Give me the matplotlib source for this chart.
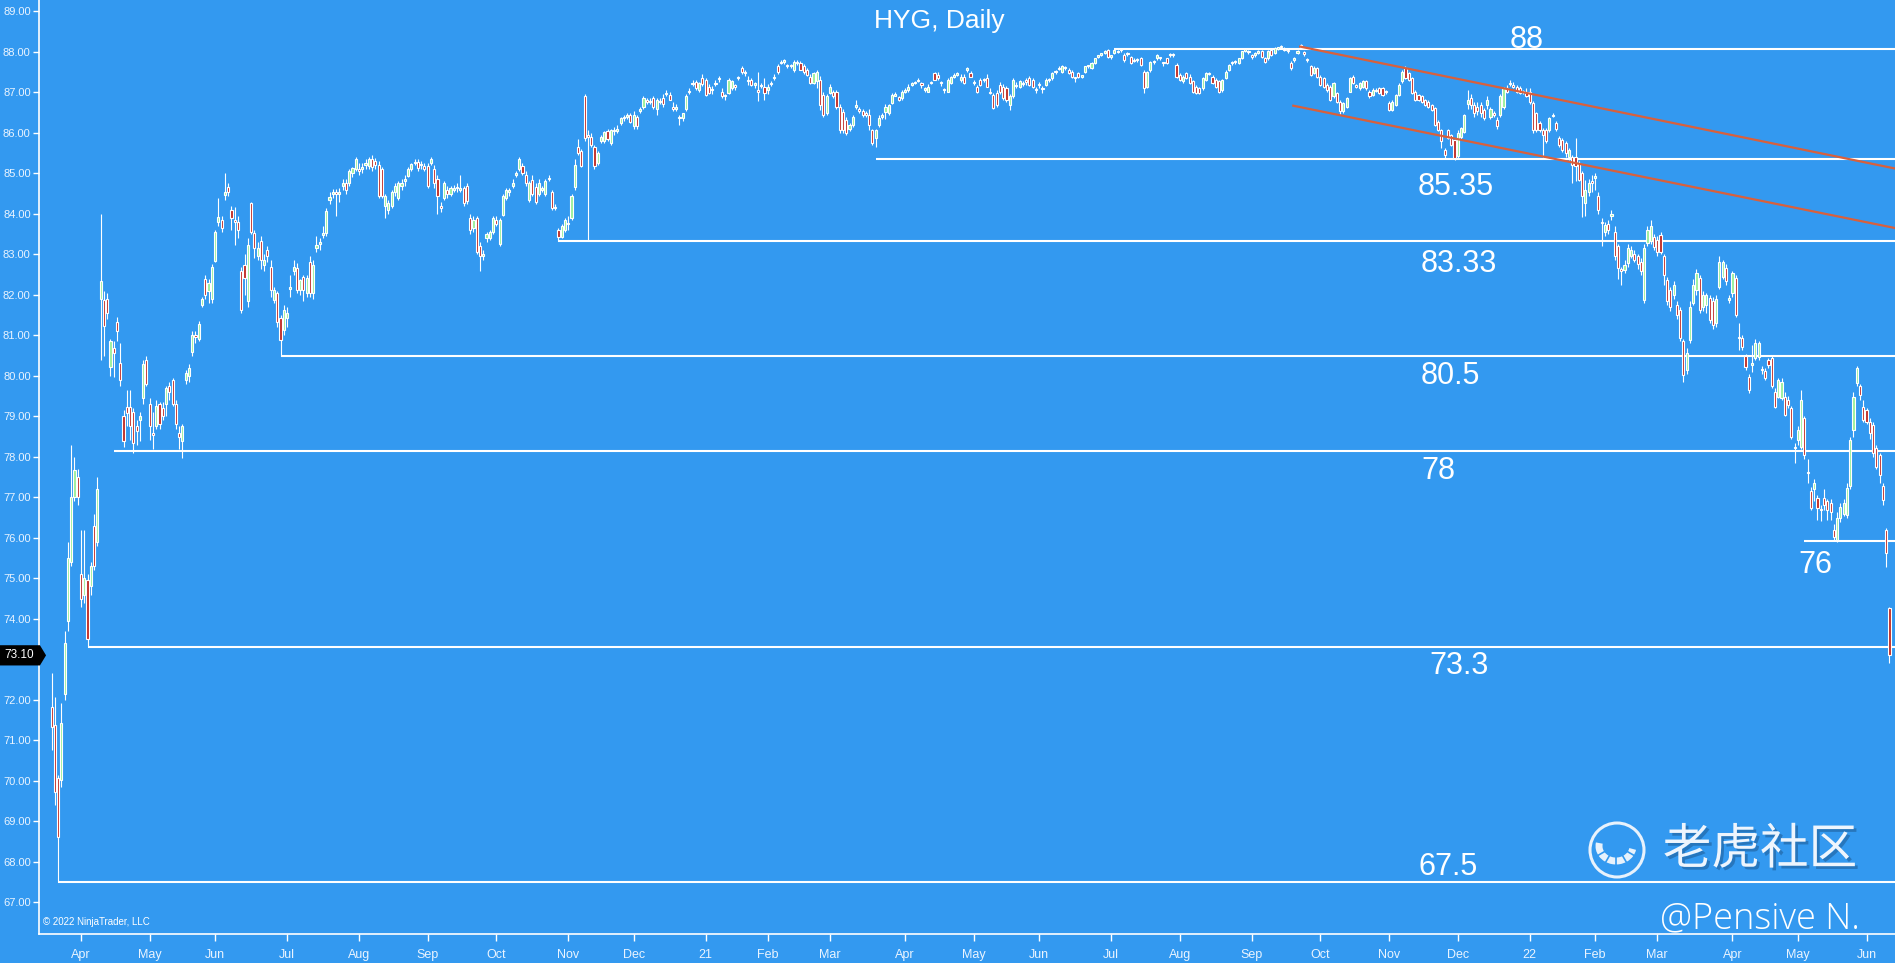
import matplotlib
matplotlib.use('Agg')
import matplotlib.pyplot as plt
import matplotlib.patheffects as pe
from matplotlib.patches import Circle, Arc, Polygon
import numpy as np
import pandas as pd

# NYSE holidays inside the charted range
holidays = ['2020-04-10', '2020-05-25', '2020-07-03', '2020-09-07', '2020-11-26', '2020-12-25',
            '2021-01-01', '2021-01-18', '2021-02-15', '2021-04-02', '2021-05-31', '2021-07-05',
            '2021-09-06', '2021-11-25', '2021-12-24', '2022-01-17', '2022-02-21', '2022-04-15',
            '2022-05-30']
dates = pd.bdate_range('2020-03-19', '2022-06-10', freq='C', holidays=holidays)

# daily OHLC, one line per month
o = [
    71.83, 71.38, 70.07, 70.02, 72.14, 73.95, 75.40, 77.00, 77.50,
    75.10, 74.60, 74.96, 74.80, 76.30, 75.90, 81.90, 81.88, 81.90, 80.23, 80.68, 81.34, 80.31, 79.00, 79.24, 79.24, 79.10, 78.75, 78.90, 79.45, 80.40,
    79.30, 78.60, 78.75, 79.30, 79.20, 79.30, 79.75, 79.90, 79.30, 78.60, 78.40, 79.90, 80.00, 80.60, 81.00, 80.90, 81.75, 82.40, 82.10, 81.90,
    82.83, 83.81, 83.85, 84.47, 84.67, 84.10, 83.85, 83.80, 82.58, 82.74, 81.84, 84.26, 83.52, 82.95, 83.32, 82.74, 83.11, 82.70, 81.88, 82.04, 81.42, 81.14,
    81.42, 82.15, 82.60, 82.66, 82.12, 82.45, 82.04, 82.82, 82.04, 83.15, 83.25, 83.48, 83.52, 84.35, 84.50, 84.55, 84.50, 84.70, 84.76, 84.76, 85.00, 85.10,
    85.10, 85.10, 85.20, 85.17, 85.35, 85.30, 85.20, 85.10, 84.20, 84.10, 84.20, 84.55, 84.40, 84.70, 84.80, 84.93, 85.10, 85.25, 85.29, 85.20, 85.17,
    85.17, 85.25, 85.10, 84.87, 84.20, 84.40, 84.60, 84.50, 84.60, 84.63, 84.60, 84.63, 84.68, 83.90, 83.65, 83.90, 83.20, 82.95, 83.40, 83.40, 83.55,
    83.85, 83.25, 83.97, 84.40, 84.55, 84.70, 84.95, 85.10, 85.17, 84.96, 84.35, 84.84, 84.67, 84.50, 84.60, 84.50, 84.85, 84.55, 84.15, 83.60, 83.44, 83.60,
    83.75, 83.90, 84.67, 85.66, 85.54, 86.90, 85.95, 85.90, 85.66, 85.25, 85.80, 85.80, 86.05, 85.75, 86.05, 86.05, 86.24, 86.36, 86.40, 86.44,
    86.16, 86.40, 86.55, 86.65, 86.80, 86.75, 86.86, 86.60, 86.75, 86.86, 86.95, 86.94, 86.65, 86.60, 86.36, 86.36, 86.60, 87.00, 87.20, 87.25, 87.06, 87.35,
    87.30, 87.14, 87.05, 87.20, 87.33, 87.02, 86.90, 86.98, 87.10, 87.15, 87.35, 87.60, 87.47, 87.27, 87.30, 87.19, 87.05, 87.15, 87.14,
    87.05, 87.20, 87.35, 87.64, 87.72, 87.76, 87.65, 87.64, 87.56, 87.72, 87.72, 87.64, 87.55, 87.39, 87.23, 87.27, 87.31, 86.94, 86.50,
    86.98, 87.00, 87.00, 86.65, 86.52, 86.32, 86.10, 86.20, 86.65, 86.58, 86.55, 86.48, 86.44, 86.07, 85.87, 86.20, 86.40, 86.52, 86.50, 86.73, 86.92, 86.88, 86.86,
    87.00, 87.06, 87.19, 87.23, 87.27, 87.22, 87.05, 87.02, 87.23, 87.47, 87.43, 87.23, 87.05, 87.02, 87.23, 87.39, 87.43, 87.30, 87.39, 87.56, 87.47,
    87.23, 87.14, 87.31, 87.30, 87.35, 87.02, 86.94, 86.98, 87.19, 87.14, 87.10, 86.69, 86.90, 87.15, 87.14, 87.20, 87.30, 87.35, 87.31, 87.05,
    87.17, 87.08, 87.19, 87.30, 87.35, 87.50, 87.58, 87.51, 87.60, 87.56, 87.51, 87.35, 87.47, 87.39, 87.51, 87.64, 87.60, 87.72, 87.88, 87.93, 87.98, 88.05,
    87.88, 87.97, 88.00, 88.04, 87.93, 87.95, 87.88, 87.78, 87.80, 87.84, 87.50, 87.14, 87.56, 87.75, 87.84, 87.85, 87.73, 87.84, 87.92, 87.92, 87.68,
    87.43, 87.27, 87.47, 87.39, 87.27, 87.14, 87.10, 87.10, 87.31, 87.45, 87.39, 87.31, 87.27, 87.06, 87.35, 87.56, 87.72, 87.74, 87.72, 87.84, 88.03, 88.00,
    87.90, 87.92, 87.98, 88.01, 87.84, 87.84, 88.05, 87.97, 88.08, 88.11, 88.08, 88.04, 87.72, 87.80, 87.98, 88.12, 88.00, 87.82, 87.64, 87.47, 87.60,
    87.39, 87.35, 87.19, 87.14, 86.90, 86.98, 86.77, 86.53, 86.65, 87.02, 87.39, 87.16, 87.10, 87.14, 87.27, 87.02, 86.94, 87.04, 87.10, 87.10, 87.00,
    86.73, 86.57, 86.69, 86.94, 87.27, 87.60, 87.47, 87.35, 87.02, 86.94, 86.90, 86.81, 86.77, 86.69, 86.61, 86.28, 86.07, 85.58, 86.07, 85.95, 85.83,
    85.42, 85.90, 86.03, 86.70, 86.85, 86.69, 86.65, 86.69, 86.57, 86.69, 86.40, 86.48, 86.32, 86.44, 86.65, 87.10, 87.20, 87.15, 87.14, 87.10, 87.00, 87.02,
    87.02, 86.73, 86.48, 86.24, 86.07, 86.07, 86.07, 86.42, 86.24, 85.87, 85.83, 85.75, 85.41, 85.40, 85.40, 85.25, 85.00, 84.26, 84.55, 84.80,
    84.88, 84.45, 83.80, 83.56, 83.75, 83.95, 83.56, 83.20, 82.62, 82.62, 82.78, 82.95, 83.00, 82.95, 82.82, 81.88, 83.28, 83.32, 83.44,
    83.36, 83.48, 82.95, 82.37, 82.12, 82.00, 81.75, 81.63, 80.85, 80.15, 80.89, 81.80, 82.12, 82.41, 81.70, 81.75, 81.92, 81.84, 81.30, 82.20, 82.45, 82.66, 81.88,
    82.04, 82.41, 80.95, 80.93, 80.48, 79.98, 80.28, 80.44, 80.47, 80.18, 80.11, 80.40, 80.44, 79.61, 79.49, 79.45, 79.49, 79.41, 79.20, 78.25,
    78.42, 78.25, 78.95, 77.62, 77.15, 77.20, 76.98, 76.70, 76.98, 76.90, 76.85, 76.20, 75.95, 76.49, 76.60, 76.57, 77.27, 78.67, 79.82, 79.74, 79.24,
    79.15, 78.87, 78.79, 78.21, 78.05, 77.27, 76.20, 74.27,
]
h = [
    72.67, 72.07, 70.15, 71.93, 73.70, 75.90, 78.30, 78.00, 77.70,
    76.20, 76.20, 75.10, 75.40, 76.60, 77.50, 84.00, 82.10, 82.05, 80.90, 80.85, 81.45, 80.80, 79.15, 79.65, 79.65, 79.20, 78.90, 79.10, 80.40, 80.50,
    79.45, 79.10, 79.40, 79.35, 79.35, 79.75, 79.85, 79.95, 79.40, 78.75, 78.80, 80.15, 80.30, 81.10, 81.10, 81.35, 81.95, 82.50, 82.40, 82.75,
    83.60, 84.40, 83.95, 85.00, 84.75, 84.20, 84.18, 83.95, 82.70, 83.00, 83.40, 84.30, 83.60, 83.30, 83.45, 83.00, 83.20, 82.85, 82.20, 82.10, 81.50, 81.75,
    81.70, 82.50, 82.85, 82.78, 82.40, 82.50, 82.50, 82.95, 82.85, 83.45, 83.40, 83.70, 84.15, 84.55, 84.62, 84.62, 84.65, 84.85, 84.85, 85.10, 85.15, 85.40,
    85.25, 85.25, 85.35, 85.40, 85.45, 85.38, 85.30, 85.15, 84.50, 84.35, 84.60, 84.75, 84.80, 84.85, 84.95, 85.15, 85.25, 85.35, 85.35, 85.30, 85.25,
    85.25, 85.40, 85.20, 84.95, 84.30, 84.80, 84.70, 84.70, 84.72, 84.75, 84.95, 84.70, 84.75, 84.00, 83.95, 83.95, 83.30, 83.10, 83.55, 83.60, 83.95,
    83.95, 83.90, 84.50, 84.65, 84.65, 84.85, 85.05, 85.40, 85.25, 85.05, 84.80, 84.95, 84.75, 84.85, 84.70, 84.85, 84.95, 84.60, 84.25, 83.65, 83.75, 83.90,
    83.95, 84.50, 85.35, 85.85, 85.60, 86.95, 86.07, 86.00, 85.70, 85.55, 85.95, 86.05, 86.10, 86.10, 86.15, 86.20, 86.40, 86.45, 86.50, 86.50,
    86.55, 86.45, 86.65, 86.90, 86.85, 86.85, 86.90, 86.85, 86.85, 86.95, 87.05, 87.00, 86.75, 86.70, 86.45, 86.50, 86.95, 87.10, 87.30, 87.30, 87.25, 87.45,
    87.35, 87.20, 87.15, 87.30, 87.40, 87.10, 86.95, 87.35, 87.30, 87.20, 87.40, 87.65, 87.55, 87.40, 87.35, 87.25, 87.50, 87.22, 87.35,
    87.20, 87.28, 87.45, 87.70, 87.80, 87.82, 87.70, 87.70, 87.80, 87.80, 87.78, 87.70, 87.60, 87.45, 87.50, 87.55, 87.40, 87.00, 86.95,
    87.20, 87.05, 87.05, 86.70, 86.60, 86.40, 86.25, 86.45, 86.80, 86.65, 86.60, 86.55, 86.60, 86.10, 86.10, 86.45, 86.50, 86.70, 86.70, 86.98, 87.00, 86.92, 87.05,
    87.10, 87.20, 87.25, 87.28, 87.35, 87.25, 87.14, 87.20, 87.28, 87.50, 87.50, 87.28, 87.10, 87.35, 87.40, 87.47, 87.50, 87.45, 87.45, 87.62, 87.52,
    87.30, 87.18, 87.35, 87.35, 87.45, 87.10, 86.98, 87.05, 87.25, 87.20, 87.15, 86.95, 87.35, 87.25, 87.30, 87.28, 87.35, 87.40, 87.35, 87.12,
    87.25, 87.15, 87.35, 87.35, 87.50, 87.55, 87.65, 87.68, 87.65, 87.60, 87.55, 87.38, 87.50, 87.42, 87.66, 87.68, 87.75, 87.86, 87.92, 87.96, 88.04, 88.08,
    87.92, 88.08, 88.04, 88.09, 87.97, 88.00, 87.90, 87.84, 87.84, 87.88, 87.55, 87.52, 87.78, 87.80, 87.95, 87.88, 87.76, 87.86, 87.96, 87.96, 87.72,
    87.48, 87.42, 87.50, 87.45, 87.30, 87.18, 87.14, 87.38, 87.50, 87.50, 87.42, 87.35, 87.30, 87.34, 87.54, 87.70, 87.78, 87.80, 87.86, 88.03, 88.08, 88.04,
    87.95, 88.00, 88.04, 88.05, 87.88, 88.04, 88.08, 88.12, 88.12, 88.16, 88.12, 88.07, 87.78, 87.88, 88.05, 88.20, 88.02, 87.86, 87.68, 87.64, 87.63,
    87.42, 87.38, 87.22, 87.18, 87.26, 87.02, 86.80, 86.76, 86.88, 87.38, 87.42, 87.20, 87.26, 87.30, 87.30, 87.05, 87.10, 87.10, 87.14, 87.13, 87.06,
    86.78, 86.80, 86.97, 87.22, 87.54, 87.65, 87.50, 87.38, 87.05, 86.97, 86.93, 86.84, 86.80, 86.72, 86.64, 86.31, 86.10, 85.62, 86.10, 85.98, 85.86,
    86.07, 86.14, 86.47, 87.06, 86.95, 86.75, 86.75, 86.75, 86.62, 86.90, 86.65, 86.55, 86.40, 86.95, 87.12, 87.18, 87.31, 87.25, 87.18, 87.15, 87.05, 87.10,
    87.10, 86.78, 86.52, 86.30, 86.12, 86.12, 86.40, 86.50, 86.30, 85.92, 85.88, 85.80, 85.62, 85.45, 85.87, 85.30, 85.05, 84.84, 84.85, 84.95,
    85.00, 84.55, 83.90, 83.80, 83.85, 84.10, 83.70, 83.25, 82.70, 82.85, 83.25, 83.20, 83.10, 83.00, 82.90, 83.25, 83.70, 83.85, 83.50,
    83.45, 83.55, 83.00, 82.45, 82.20, 82.35, 81.85, 81.70, 80.90, 80.70, 81.85, 82.40, 82.65, 82.50, 82.10, 82.05, 82.00, 81.95, 82.00, 82.95, 82.85, 82.75, 82.00,
    82.60, 82.50, 81.30, 81.00, 80.55, 80.05, 80.75, 80.90, 80.85, 80.25, 80.20, 80.45, 80.50, 79.70, 79.95, 79.95, 79.60, 79.50, 79.25, 78.35,
    78.75, 79.65, 79.00, 77.95, 77.25, 77.45, 77.05, 76.80, 77.20, 76.95, 76.95, 76.35, 76.65, 76.85, 76.95, 77.35, 78.50, 79.60, 80.25, 79.80, 79.40,
    79.20, 78.95, 78.85, 78.30, 78.10, 77.35, 76.25, 74.30,
]
l = [
    70.77, 69.40, 67.50, 69.85, 72.00, 73.70, 75.30, 76.90, 76.80,
    74.30, 74.40, 73.30, 74.60, 75.20, 75.80, 80.40, 80.50, 81.40, 80.00, 79.98, 80.85, 79.75, 78.25, 78.75, 78.42, 78.10, 78.30, 78.40, 79.30, 79.75,
    78.42, 78.20, 78.70, 78.70, 78.90, 79.00, 79.40, 79.25, 78.70, 78.20, 77.97, 79.80, 79.85, 80.50, 80.80, 80.85, 81.70, 81.90, 81.80, 81.80,
    82.80, 83.70, 83.55, 84.35, 84.45, 83.60, 83.23, 83.40, 81.55, 82.00, 81.70, 83.50, 82.90, 82.85, 82.65, 82.60, 82.80, 81.95, 81.80, 81.20, 80.48, 81.00,
    81.20, 81.95, 82.50, 82.05, 82.00, 81.85, 81.95, 81.95, 81.90, 83.05, 83.10, 83.40, 83.45, 84.25, 84.40, 83.95, 84.30, 84.60, 84.50, 84.70, 84.90, 85.05,
    84.95, 85.00, 85.10, 85.10, 85.05, 85.10, 84.40, 84.40, 83.90, 84.00, 84.15, 84.45, 84.35, 84.60, 84.70, 84.90, 85.05, 85.20, 85.05, 85.10, 85.05,
    84.65, 85.20, 84.63, 84.00, 84.05, 84.35, 84.40, 84.45, 84.55, 84.55, 84.55, 84.20, 84.25, 83.50, 83.55, 83.00, 82.60, 82.85, 83.30, 83.35, 83.50,
    83.70, 83.20, 83.95, 84.35, 84.45, 84.65, 84.90, 85.05, 84.95, 84.70, 84.30, 84.45, 84.25, 84.45, 84.55, 84.45, 84.80, 84.10, 84.10, 83.32, 83.40, 83.55,
    83.60, 83.85, 84.60, 85.45, 85.15, 85.80, 83.36, 85.65, 85.10, 85.20, 85.75, 85.75, 85.80, 85.70, 85.95, 86.00, 86.20, 86.30, 86.35, 86.25,
    86.10, 86.10, 86.50, 86.60, 86.70, 86.70, 86.60, 86.45, 86.70, 86.65, 86.90, 86.80, 86.55, 86.55, 86.20, 86.30, 86.55, 86.95, 87.15, 87.05, 87.00, 87.15,
    86.90, 86.95, 86.95, 87.15, 87.25, 86.85, 86.80, 86.95, 87.05, 87.05, 87.30, 87.45, 87.40, 87.18, 87.15, 87.10, 86.78, 87.10, 86.80,
    86.95, 87.15, 87.30, 87.45, 87.70, 87.70, 87.60, 87.60, 87.50, 87.68, 87.55, 87.45, 87.40, 87.20, 87.20, 87.10, 86.57, 86.40, 86.45,
    86.95, 86.85, 86.60, 86.00, 86.00, 85.95, 86.05, 86.15, 86.60, 86.50, 86.40, 86.40, 86.08, 85.70, 85.66, 86.15, 86.35, 86.35, 86.45, 86.70, 86.90, 86.78, 86.80,
    86.98, 87.00, 87.15, 87.20, 87.25, 87.10, 87.00, 87.00, 87.20, 87.30, 87.30, 87.15, 86.98, 87.00, 87.20, 87.35, 87.40, 87.25, 87.20, 87.50, 87.38,
    87.18, 86.98, 87.15, 87.25, 87.12, 86.95, 86.58, 86.65, 86.95, 86.80, 86.75, 86.57, 86.85, 87.10, 87.10, 87.15, 87.18, 87.15, 87.10, 86.98,
    87.10, 86.98, 87.15, 87.25, 87.30, 87.45, 87.55, 87.48, 87.55, 87.45, 87.35, 87.25, 87.35, 87.35, 87.48, 87.60, 87.58, 87.70, 87.84, 87.90, 87.95, 87.85,
    87.82, 87.95, 87.97, 88.00, 87.76, 87.90, 87.70, 87.75, 87.75, 87.65, 86.98, 87.10, 87.50, 87.70, 87.80, 87.80, 87.65, 87.70, 87.88, 87.88, 87.35,
    87.28, 87.22, 87.32, 87.20, 86.98, 86.95, 86.95, 87.05, 87.28, 87.42, 87.20, 87.10, 86.98, 87.02, 87.32, 87.52, 87.68, 87.70, 87.70, 87.82, 88.00, 87.95,
    87.82, 87.88, 87.95, 87.85, 87.72, 87.80, 87.90, 87.95, 88.05, 88.08, 88.02, 87.98, 87.55, 87.75, 87.95, 88.08, 87.90, 87.76, 87.40, 87.45, 87.36,
    87.15, 87.10, 87.02, 86.78, 86.85, 86.74, 86.44, 86.50, 86.62, 87.00, 87.20, 87.10, 87.06, 87.10, 87.06, 86.86, 86.90, 87.00, 86.95, 86.90, 86.96,
    86.54, 86.54, 86.66, 86.90, 87.24, 87.32, 87.28, 86.95, 86.78, 86.78, 86.74, 86.66, 86.62, 86.54, 86.16, 86.04, 85.62, 85.37, 85.84, 85.67, 85.33,
    85.38, 85.86, 86.00, 86.60, 86.60, 86.40, 86.45, 86.40, 86.32, 86.60, 86.35, 86.40, 86.10, 86.40, 86.60, 86.98, 87.15, 87.10, 86.98, 86.95, 86.95, 86.88,
    86.72, 86.00, 86.02, 86.02, 85.41, 85.75, 86.02, 86.38, 86.05, 85.65, 85.52, 85.40, 85.33, 84.76, 84.80, 84.80, 83.93, 83.95, 84.45, 84.55,
    84.60, 84.00, 83.20, 83.45, 83.50, 83.85, 82.85, 82.40, 82.25, 82.55, 82.70, 82.90, 82.80, 82.65, 82.50, 81.80, 83.20, 83.25, 83.10,
    82.95, 83.00, 82.25, 81.75, 81.60, 81.90, 81.40, 80.85, 79.86, 80.05, 80.80, 81.75, 82.00, 81.55, 81.60, 81.55, 81.30, 81.15, 81.20, 82.15, 82.40, 82.25, 81.80,
    81.95, 81.45, 80.65, 80.65, 80.15, 79.57, 80.10, 80.40, 80.40, 80.05, 79.90, 80.20, 79.70, 79.20, 79.45, 79.40, 79.00, 79.20, 78.45, 77.85,
    78.30, 78.20, 77.95, 77.35, 76.70, 76.90, 76.45, 76.42, 76.70, 76.45, 76.45, 75.95, 75.90, 76.40, 76.55, 76.50, 77.20, 78.50, 79.75, 79.40, 78.85,
    78.80, 78.45, 78.00, 77.70, 77.35, 76.80, 75.29, 72.90,
]
c = [
    71.33, 69.73, 68.62, 71.43, 73.40, 75.50, 77.00, 77.67, 77.00,
    74.50, 75.00, 73.50, 75.30, 75.30, 77.20, 82.35, 81.22, 81.55, 80.85, 80.56, 81.10, 79.90, 78.40, 79.08, 78.75, 78.34, 78.65, 79.00, 80.30, 79.80,
    78.75, 78.55, 79.25, 78.80, 79.00, 79.70, 79.60, 79.30, 78.80, 78.50, 78.75, 80.07, 80.20, 81.00, 80.95, 81.27, 81.90, 82.00, 82.30, 82.70,
    83.55, 83.93, 83.65, 84.55, 84.55, 83.90, 83.80, 83.60, 81.63, 82.41, 83.23, 83.56, 83.15, 83.15, 82.86, 82.86, 82.95, 82.12, 82.12, 81.34, 80.89, 81.63,
    81.55, 82.20, 82.70, 82.12, 82.37, 82.12, 82.42, 82.04, 82.74, 83.23, 83.30, 83.52, 84.06, 84.42, 84.55, 84.50, 84.55, 84.76, 84.60, 85.05, 85.12, 85.35,
    85.05, 85.15, 85.25, 85.35, 85.15, 85.20, 84.45, 84.45, 84.45, 84.27, 84.55, 84.70, 84.75, 84.75, 84.85, 85.10, 85.22, 85.29, 85.12, 85.23, 85.10,
    84.70, 85.35, 84.75, 84.45, 84.15, 84.75, 84.50, 84.65, 84.63, 84.65, 84.63, 84.27, 84.32, 83.60, 83.85, 83.07, 82.95, 83.00, 83.50, 83.55, 83.90,
    83.75, 83.85, 84.45, 84.60, 84.57, 84.75, 85.00, 85.35, 85.00, 84.76, 84.76, 84.50, 84.30, 84.76, 84.63, 84.80, 84.88, 84.14, 84.18, 83.44, 83.69, 83.85,
    83.77, 84.43, 85.20, 85.50, 85.17, 85.87, 85.90, 85.70, 85.17, 85.50, 85.90, 86.03, 85.85, 86.07, 86.07, 86.10, 86.36, 86.38, 86.44, 86.28,
    86.44, 86.16, 86.57, 86.86, 86.77, 86.78, 86.65, 86.80, 86.77, 86.70, 86.98, 86.82, 86.60, 86.64, 86.36, 86.48, 86.90, 87.02, 87.23, 87.10, 87.23, 87.20,
    86.94, 86.98, 87.06, 87.23, 87.35, 86.90, 86.90, 87.31, 87.27, 87.14, 87.35, 87.50, 87.47, 87.27, 87.19, 87.19, 87.02, 87.19, 86.98,
    87.14, 87.23, 87.39, 87.51, 87.76, 87.78, 87.64, 87.64, 87.76, 87.72, 87.56, 87.51, 87.43, 87.23, 87.47, 87.51, 86.69, 86.44, 86.90,
    87.14, 86.90, 86.65, 86.07, 86.07, 86.00, 86.20, 86.40, 86.69, 86.55, 86.45, 86.43, 86.20, 85.75, 86.07, 86.36, 86.44, 86.65, 86.69, 86.94, 86.94, 86.80, 87.02,
    87.06, 87.14, 87.19, 87.23, 87.31, 87.19, 87.10, 87.14, 87.23, 87.31, 87.35, 87.23, 87.05, 87.31, 87.39, 87.43, 87.47, 87.39, 87.23, 87.56, 87.39,
    87.23, 87.02, 87.19, 87.31, 87.14, 86.98, 86.61, 86.69, 87.02, 86.85, 86.81, 86.90, 87.31, 87.19, 87.27, 87.23, 87.25, 87.19, 87.14, 87.06,
    87.19, 87.10, 87.31, 87.31, 87.47, 87.51, 87.60, 87.64, 87.60, 87.47, 87.39, 87.35, 87.39, 87.39, 87.64, 87.64, 87.72, 87.84, 87.88, 87.93, 88.01, 87.88,
    87.88, 88.05, 88.01, 88.05, 87.80, 87.97, 87.72, 87.80, 87.80, 87.68, 87.10, 87.50, 87.76, 87.76, 87.93, 87.84, 87.72, 87.72, 87.93, 87.93, 87.39,
    87.31, 87.39, 87.35, 87.23, 87.02, 86.98, 86.98, 87.35, 87.47, 87.47, 87.23, 87.14, 87.02, 87.31, 87.51, 87.68, 87.74, 87.76, 87.84, 88.01, 88.05, 88.01,
    87.88, 87.97, 88.01, 87.88, 87.76, 88.01, 87.93, 88.09, 88.10, 88.13, 88.05, 88.01, 87.60, 87.84, 88.00, 88.17, 87.95, 87.80, 87.43, 87.60, 87.39,
    87.19, 87.14, 87.06, 86.81, 87.23, 86.77, 86.53, 86.73, 86.85, 87.35, 87.23, 87.14, 87.23, 87.27, 87.10, 86.90, 87.06, 87.06, 86.98, 86.94, 87.02,
    86.57, 86.77, 86.94, 87.19, 87.51, 87.35, 87.31, 86.98, 86.81, 86.81, 86.77, 86.69, 86.65, 86.57, 86.20, 86.07, 85.80, 85.45, 85.87, 85.70, 85.37,
    85.99, 86.11, 86.44, 86.81, 86.69, 86.49, 86.53, 86.49, 86.36, 86.81, 86.60, 86.45, 86.16, 86.90, 87.10, 87.02, 87.23, 87.14, 87.02, 86.98, 87.00, 86.90,
    86.77, 86.07, 86.07, 86.07, 85.95, 85.80, 86.36, 86.44, 86.10, 85.70, 85.58, 85.50, 85.58, 85.20, 85.17, 84.84, 84.43, 84.60, 84.76, 84.76,
    84.93, 84.10, 83.77, 83.73, 83.60, 84.00, 82.95, 82.66, 82.60, 82.74, 83.15, 83.10, 82.85, 82.75, 82.58, 83.15, 83.60, 83.69, 83.19,
    83.07, 83.07, 82.50, 81.84, 81.71, 82.25, 81.50, 80.93, 80.03, 80.56, 81.71, 82.25, 82.54, 81.63, 82.00, 82.00, 81.38, 81.26, 81.90, 82.82, 82.80, 82.33, 81.92,
    82.54, 81.50, 80.93, 80.72, 80.23, 79.65, 80.30, 80.80, 80.80, 80.15, 79.94, 80.27, 79.74, 79.24, 79.90, 79.86, 79.04, 79.28, 78.50, 78.21,
    78.67, 79.41, 78.05, 77.60, 76.73, 77.35, 76.73, 76.69, 76.82, 76.70, 76.65, 76.03, 76.49, 76.77, 76.85, 77.23, 78.42, 79.49, 80.19, 79.53, 78.91,
    78.87, 78.58, 78.09, 77.76, 77.55, 76.94, 75.62, 73.10,
]

# horizontal levels drawn on the chart: price, first bar, label
levels = [88.08, 85.35, 83.33, 80.5, 78.15, 75.92, 73.3, 67.5]
level_start = [325, 252, 155, 70, 19, 536, 11, 2]
level_text = ['88', '85.35', '83.33', '80.5', '78', '76', '73.3', '67.5']
level_text_x = [451, 429.5, 430.3, 427.6, 424, 539.3, 430.3, 426.9]
level_text_y = [88.30, 84.67, 82.77, 79.99, 77.64, 75.34, 72.83, 67.88]

# falling channel (bar, price)
upper_x, upper_y = [381.8, 563.7], [88.13, 85.12]
lower_x, lower_y = [379.7, 563.7], [86.67, 83.65]

BG = '#3399f0'
W, H = 1895, 963
plt.rcParams['font.family'] = ['Liberation Sans', 'DejaVu Sans']

n = min(len(dates), len(o), len(h), len(l), len(c))
dates = dates[:n]
O, Hh, L, C = (np.array(a[:n]) for a in (o, h, l, c))
x = np.arange(n)

fig = plt.figure(figsize=(W / 100, H / 100), dpi=100, facecolor=BG)
ax = fig.add_axes([39 / W, 29 / H, 1 - 39 / W, 934 / H], facecolor=BG)
ax.set_xlim(-3.85, 563.7)
ax.set_ylim(66.22, 89.28)

# levels and channel
ax.hlines(levels, level_start, 563.7, color='white', lw=1.5, zorder=1)
for tx, ty, s in zip(level_text_x, level_text_y, level_text):
    ax.text(tx, ty, s, color='white', fontsize=22, ha='center', va='center', zorder=5)
ax.plot(upper_x, upper_y, color='#d8603c', lw=1.6, zorder=4)
ax.plot(lower_x, lower_y, color='#d8603c', lw=1.6, zorder=4)

# candles
up = C >= O
ax.vlines(x, L, Hh, color='white', lw=0.8, zorder=2)
body = np.maximum(np.abs(C - O), 0.03)
ax.bar(x, body, bottom=np.minimum(O, C), width=0.65,
       color=np.where(up, '#9cf09c', '#c0302a'), edgecolor='white', linewidth=0.8, zorder=3)

# axes styling
for s in ('top', 'right'):
    ax.spines[s].set_visible(False)
for s in ('left', 'bottom'):
    ax.spines[s].set_color('white')
    ax.spines[s].set_linewidth(1.2)

last = C[-1]
yt = np.arange(67, 90)
ax.set_yticks(yt)
# the 73.00 label sits under the last-price tag, as on the original
ax.set_yticklabels(['' if abs(v - last) < 0.5 else f'{v:.2f}' for v in yt])
ax.tick_params(axis='y', colors='white', labelcolor='#eaf4ff', labelsize=8, length=4, width=1, pad=2)

month_start = [i for i in range(1, n) if dates[i].month != dates[i - 1].month]
ax.set_xticks(month_start)
ax.set_xticklabels([dates[i].strftime('%y') if dates[i].month == 1 else dates[i].strftime('%b') for i in month_start])
ax.tick_params(axis='x', colors='white', labelcolor='#eaf4ff', labelsize=9, length=5, width=1, pad=6)
for lab in ax.get_xticklabels():
    lab.set_family(['Liberation Sans Narrow', 'Liberation Sans'])

# last price tag on the axis
tr = ax.get_yaxis_transform()
tag = Polygon([(-0.0212, last - 0.25), (0.0005, last - 0.25), (0.0038, last),
               (0.0005, last + 0.25), (-0.0212, last + 0.25)],
              closed=True, transform=tr, facecolor='black', edgecolor='none', clip_on=False, zorder=6)
ax.add_patch(tag)
ax.text(-0.0105, last, f'{last:.2f}', transform=tr, color='white', fontsize=8.5,
        ha='center', va='center', clip_on=False, zorder=7)

# overlay in pixel coordinates for title and watermarks
ov = fig.add_axes([0, 0, 1, 1], facecolor='none')
ov.set_xlim(0, W)
ov.set_ylim(H, 0)
ov.axis('off')
ov.text(939, 21, 'HYG, Daily', color='white', fontsize=19, ha='center', va='center')
ov.text(43, 922, '© 2022 NinjaTrader, LLC', color='white', fontsize=7, ha='left', va='center')

ov.add_patch(Circle((1617, 850), 27, facecolor='none', edgecolor='#e8f2fc', lw=2.2))
ov.add_patch(Arc((1616, 846), 34, 30, theta1=10, theta2=190, edgecolor='#e8f2fc', lw=5))
for k in range(5):
    ang = np.deg2rad(30 + k * 30)
    ov.plot([1616 + 12 * np.cos(ang), 1616 + 21 * np.cos(ang)],
            [846 + 10 * np.sin(ang), 846 + 19 * np.sin(ang)], color=BG, lw=1.2)
ov.text(1760, 850, '老虎社区', color='#eef5fd', fontsize=35, fontweight='medium', ha='center', va='center',
        family=['Noto Sans CJK SC', 'DejaVu Sans'],
        path_effects=[pe.withSimplePatchShadow(offset=(2, -2), shadow_rgbFace='#1f5f9a', alpha=0.6)])
ov.text(1760, 919, '@Pensive N.', color='white', fontsize=26, fontweight='light', ha='center', va='center',
        family=['Open Sans', 'DejaVu Sans'])

fig.savefig('out.png', dpi=100, facecolor=BG)
